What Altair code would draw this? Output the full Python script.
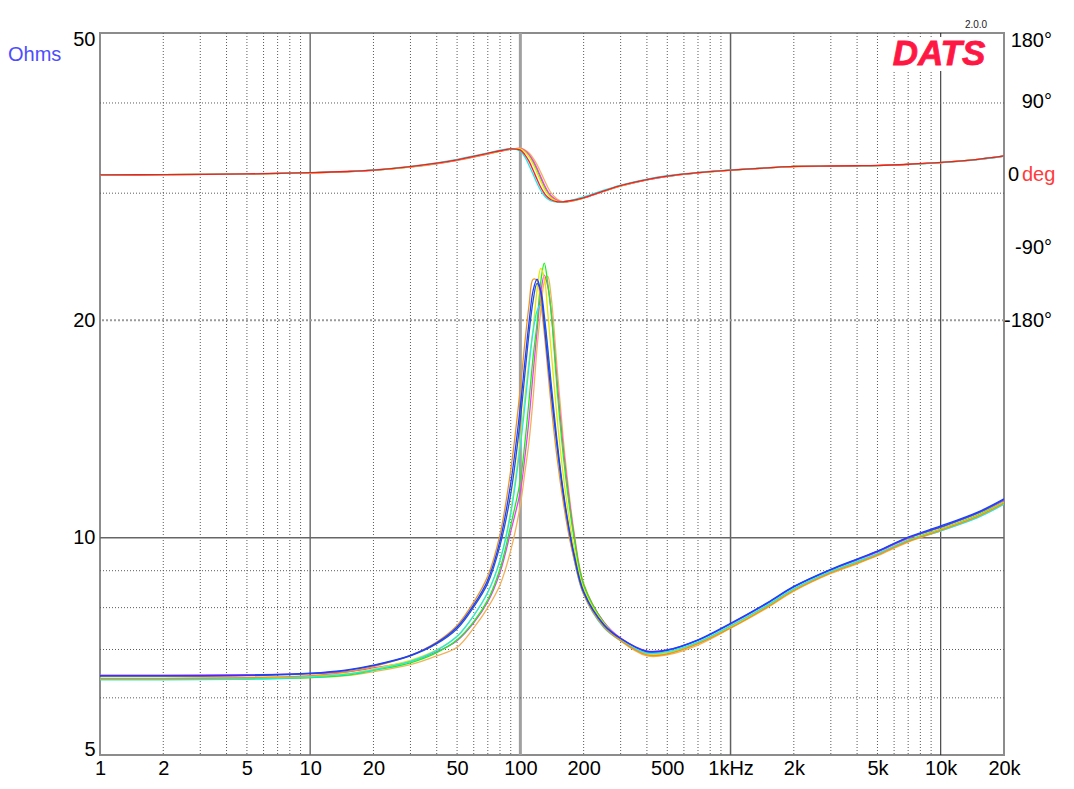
import altair as alt
import pandas as pd

# ---------------- data ----------------
FREQ = [1, 2, 5, 10, 15, 20, 30, 40, 50, 60, 70, 80, 90, 100, 105, 110, 115, 120, 125, 130,
        135, 140, 150, 160, 170, 180, 200, 250, 300, 400, 500, 700, 1000, 1500, 2000, 3000,
        4000, 5000, 7000, 10000, 15000, 20000]

Z_BLUE = [6.44, 6.44, 6.45, 6.49, 6.56, 6.66, 6.87, 7.15, 7.52, 8.07, 8.74, 9.9, 11.9, 15.2, 17.5, 19.9,
          22.0, 22.8, 21.9, 19.7, 17.6, 15.9, 13.3, 11.5, 10.3, 9.45, 8.4, 7.57, 7.25, 6.96, 6.99, 7.22,
          7.61, 8.13, 8.56, 9.04, 9.34, 9.58, 10.02, 10.38, 10.85, 11.32]
Z_BLUE2 = [6.43, 6.43, 6.44, 6.48, 6.55, 6.65, 6.86, 7.13, 7.48, 8.02, 8.65, 9.75, 11.5, 14.6, 16.8, 19.2,
           21.3, 22.5, 22.0, 20.3, 18.3, 16.4, 13.5, 11.6, 10.35, 9.5, 8.42, 7.57, 7.25, 6.95, 6.98, 7.21,
           7.60, 8.12, 8.55, 9.03, 9.33, 9.57, 10.0, 10.35, 10.82, 11.29]
Z_ORANGE = [6.38, 6.38, 6.40, 6.44, 6.52, 6.63, 6.87, 7.17, 7.56, 8.14, 8.85, 10.1, 12.4, 16.1, 18.6, 21.0,
            22.8, 22.7, 21.2, 19.2, 17.1, 15.3, 12.8, 11.2, 10.1, 9.35, 8.35, 7.52, 7.20, 6.88, 6.90, 7.13,
            7.50, 8.02, 8.45, 8.94, 9.22, 9.46, 9.88, 10.24, 10.70, 11.17]
Z_CYAN = [6.36, 6.36, 6.37, 6.41, 6.47, 6.56, 6.74, 6.98, 7.30, 7.80, 8.40, 9.30, 10.8, 13.4, 15.2, 17.3,
          19.3, 20.6, 21.0, 20.0, 18.0, 16.0, 13.2, 11.4, 10.2, 9.35, 8.35, 7.50, 7.20, 6.92, 6.95, 7.17,
          7.55, 8.07, 8.50, 8.98, 9.27, 9.50, 9.90, 10.22, 10.66, 11.12]
Z_YELLOW = [6.39, 6.39, 6.40, 6.43, 6.48, 6.58, 6.76, 6.99, 7.30, 7.80, 8.40, 9.30, 10.9, 13.7, 15.6, 17.6,
            19.5, 22.0, 23.6, 22.9, 20.5, 18.2, 14.5, 12.2, 10.7, 9.7, 8.5, 7.60, 7.22, 6.90, 6.92, 7.14,
            7.52, 8.03, 8.46, 8.95, 9.23, 9.47, 9.90, 10.26, 10.72, 11.18]
Z_GREEN = [6.36, 6.36, 6.37, 6.40, 6.45, 6.55, 6.71, 6.93, 7.22, 7.65, 8.20, 9.05, 10.4, 12.0, 13.5, 15.5,
           17.8, 19.8, 22.6, 24.0, 22.5, 20.6, 15.9, 13.0, 11.2, 10.0, 8.6, 7.62, 7.22, 6.90, 6.92, 7.15,
           7.54, 8.05, 8.48, 8.97, 9.25, 9.49, 9.92, 10.28, 10.75, 11.20]
Z_MAGENTA = [6.45, 6.45, 6.46, 6.48, 6.52, 6.60, 6.74, 6.95, 7.20, 7.62, 8.15, 8.95, 10.2, 11.6, 12.9, 14.6,
             16.9, 19.3, 21.8, 23.1, 22.3, 20.6, 16.3, 13.3, 11.4, 10.1, 8.6, 7.64, 7.26, 6.97, 6.99, 7.21,
             7.59, 8.11, 8.54, 9.02, 9.31, 9.55, 9.98, 10.33, 10.80, 11.26]
Z_ORANGE2 = [6.37, 6.37, 6.38, 6.40, 6.44, 6.52, 6.67, 6.86, 7.05, 7.50, 8.00, 8.60, 9.60, 11.1, 12.3, 13.6,
             15.6, 18.3, 20.6, 22.6, 23.0, 21.6, 17.0, 13.7, 11.6, 10.2, 8.65, 7.62, 7.20, 6.86, 6.88, 7.10,
             7.49, 8.00, 8.43, 8.92, 9.20, 9.44, 9.86, 10.22, 10.68, 11.15]

PH_RED = [0.3, 0.6, 1.5, 3.0, 4.5, 6.3, 10.6, 14.8, 19.0, 23.3, 27.0, 30.2, 32.6, 31.0, 25.5, 17.0, 6.0,
          -5.0, -15.0, -22.5, -27.5, -30.5, -33.0, -33.0, -32.0, -31.0, -28.0, -19.5, -13.0, -5.5, -1.2,
          3.0, 6.2, 9.0, 10.8, 11.3, 11.6, 12.0, 13.5, 15.7, 19.5, 23.8]
PH_CYAN = [0.3, 0.6, 1.6, 3.1, 4.7, 6.5, 10.9, 15.2, 19.5, 23.8, 27.6, 30.8, 32.8, 29.5, 22.5, 12.0, 1.0,
           -10.0, -19.0, -25.5, -29.5, -32.0, -33.5, -32.8, -31.5, -30.2, -27.0, -18.5, -12.3, -4.8, -0.6,
           3.4, 6.4, 9.1, 10.8, 11.2, 11.5, 11.9, 13.3, 15.5, 19.2, 23.4]
PH_YELLOW = [0.3, 0.6, 1.5, 2.9, 4.4, 6.2, 10.4, 14.5, 18.7, 22.9, 26.6, 29.9, 32.3, 32.5, 29.0, 22.5, 13.5,
             3.0, -7.5, -17.0, -23.5, -28.0, -32.5, -33.2, -32.2, -31.0, -28.0, -19.5, -13.2, -5.6, -1.3,
             3.0, 6.2, 9.0, 10.7, 11.2, 11.5, 11.9, 13.4, 15.6, 19.4, 23.6]
PH_MAGENTA = [0.3, 0.6, 1.5, 2.9, 4.3, 6.0, 10.2, 14.2, 18.4, 22.6, 26.3, 29.7, 32.2, 33.0, 30.5, 25.5, 18.0,
              8.5, -2.0, -12.0, -20.0, -25.5, -31.5, -33.2, -32.5, -31.3, -28.2, -19.8, -13.4, -5.7, -1.4,
              2.9, 6.1, 8.9, 10.7, 11.2, 11.5, 11.9, 13.4, 15.6, 19.4, 23.7]
PH_ORANGE = [0.3, 0.6, 1.4, 2.8, 4.2, 5.9, 10.0, 14.0, 18.2, 22.3, 26.0, 29.4, 32.0, 33.5, 31.5, 27.5, 21.0,
             13.0, 3.5, -6.0, -15.0, -22.0, -30.0, -33.0, -32.8, -31.5, -28.5, -20.0, -13.6, -5.8, -1.5,
             2.8, 6.0, 8.8, 10.6, 11.1, 11.4, 11.8, 13.3, 15.5, 19.3, 23.6]
PH_GREEN = [0.3, 0.6, 1.5, 2.9, 4.3, 6.0, 10.2, 14.3, 18.5, 22.7, 26.4, 29.8, 32.2, 32.5, 30.0, 24.5, 16.5,
            6.5, -4.0, -14.0, -21.5, -27.0, -32.0, -33.7, -32.8, -31.5, -28.3, -19.8, -13.4, -5.7, -1.4,
            2.9, 6.1, 8.9, 10.7, 11.2, 11.5, 11.9, 13.4, 15.6, 19.4, 23.7]

X_TICKS = [1, 2, 5, 10, 20, 50, 100, 200, 500, 1000, 2000, 5000, 10000, 20000]
Y_TICKS = [5, 10, 20, 50]
X_MINOR = [2, 3, 4, 5, 6, 7, 8, 9, 20, 30, 40, 50, 60, 70, 80, 90, 200, 300, 400, 500, 600, 700, 800, 900,
           2000, 3000, 4000, 5000, 6000, 7000, 8000, 9000]
X_MAJOR = [10, 100, 1000, 10000]
Y_MINOR = [6, 7, 8, 9, 30, 40]
PHASE_TICKS = [90, -90, -180]
PHASE_LABELS = ["90°", "-90°", "-180°"]

# ---------------- styles ----------------
FONT = "Liberation Sans"
C_BLUE, C_BLUE2, C_ORANGE, C_CYAN = "#1f3dff", "#2456c8", "#ec9420", "#1de9f2"
C_YELLOW, C_GREEN, C_MAGENTA, C_ORANGE2, C_RED = "#e6e600", "#19f019", "#f03cf0", "#f2b25a", "#ff1a1a"
MAJ_COLORS = ["#707070", "#a0a0a0", "#606060", "#202020"]
MAJ_WIDTHS = [1.5, 3, 1.5, 1]
LINE_W = 1.3
INTERP = "catmull-rom"

W, H = 904, 722
XS = alt.Scale(type="log", domain=[1, 20000], nice=False)
YS = alt.Scale(type="log", domain=[5, 50], nice=False)
PS = alt.Scale(domain=[-718, 176], nice=False, zero=False)

XAXIS = alt.Axis(values=X_TICKS, grid=False, ticks=False, domain=False, title=None,
                 labelExpr="datum.value == 1000 ? '1kHz' : (datum.value > 1000 ? (datum.value/1000) + 'k' : datum.value + '')",
                 labelFontSize=20, labelFont=FONT, labelColor="black", labelPadding=3,
                 labelOverlap=False, labelFlush=False, labelBound=False)
YAXIS = alt.Axis(values=Y_TICKS, grid=False, ticks=False, domain=False, title=None,
                 labelFontSize=20, labelFont=FONT, labelColor="black", labelPadding=5,
                 labelFlush=True, labelFlushOffset=4, labelOverlap=False)

X_ENC = alt.X("f:Q", scale=XS, axis=XAXIS)


def imp_line(vals, color):
    df = pd.DataFrame({"f": FREQ, "v": vals})
    return alt.Chart(df).mark_line(color=color, strokeWidth=LINE_W, interpolate=INTERP, clip=True).encode(
        x=X_ENC, y=alt.Y("v:Q", scale=YS, axis=YAXIS))


def ph_line(vals, color):
    df = pd.DataFrame({"f": FREQ, "v": vals})
    return alt.Chart(df).mark_line(color=color, strokeWidth=LINE_W, interpolate=INTERP, clip=True).encode(
        x=X_ENC, y=alt.Y("v:Q", scale=PS, axis=None))


# grid lines
gx_minor = alt.Chart(pd.DataFrame({"f": X_MINOR})).mark_rule(
    color="#5a5a5a", strokeWidth=1, strokeDash=[1, 2]).encode(x=X_ENC)
gx_major = alt.Chart(pd.DataFrame({"f": X_MAJOR, "c": MAJ_COLORS, "w": MAJ_WIDTHS})).mark_rule().encode(
    x=X_ENC, color=alt.Color("c:N", scale=None), strokeWidth=alt.StrokeWidth("w:Q", scale=None))
gy_minor = alt.Chart(pd.DataFrame({"z": Y_MINOR})).mark_rule(
    color="#5a5a5a", strokeWidth=1, strokeDash=[1, 2]).encode(y=alt.Y("z:Q", scale=YS, axis=YAXIS))
gy_20 = alt.Chart(pd.DataFrame({"z": [20]})).mark_rule(
    color="#9a9a9a", strokeWidth=2, strokeDash=[2, 2]).encode(y=alt.Y("z:Q", scale=YS, axis=YAXIS))
gy_10 = alt.Chart(pd.DataFrame({"z": [10]})).mark_rule(
    color="#666666", strokeWidth=1.5).encode(y=alt.Y("z:Q", scale=YS, axis=YAXIS))

one = pd.DataFrame({"a": [0]})
logo_box = alt.Chart(one).mark_rect(color="white").encode(
    x=alt.value(786), x2=alt.value(902), y=alt.value(4), y2=alt.value(38))
logo = alt.Chart(pd.DataFrame({"t": ["DATS"]})).mark_text(
    font=FONT, fontSize=35, fontWeight="bold", fontStyle="italic", color="#ff1744",
    stroke="#ff1744", strokeWidth=0.8,
    align="center", baseline="alphabetic").encode(x=alt.value(839), y=alt.value(32), text="t:N")
version = alt.Chart(pd.DataFrame({"t": ["2.0.0"]})).mark_text(
    font=FONT, fontSize=10, color="#222222", align="center", baseline="alphabetic").encode(
    x=alt.value(876), y=alt.value(-5), text="t:N")
ohms = alt.Chart(pd.DataFrame({"t": ["Ohms"]})).mark_text(
    font=FONT, fontSize=20, color="#4d4dff", align="left", baseline="middle").encode(
    x=alt.value(-92), y=alt.value(22), text="t:N")

imp_layer = alt.layer(
    gx_minor, gx_major, gy_minor, gy_20, gy_10,
    imp_line(Z_ORANGE2, C_ORANGE2), imp_line(Z_MAGENTA, C_MAGENTA), imp_line(Z_GREEN, C_GREEN),
    imp_line(Z_YELLOW, C_YELLOW), imp_line(Z_CYAN, C_CYAN), imp_line(Z_ORANGE, C_ORANGE),
    imp_line(Z_BLUE2, C_BLUE2), imp_line(Z_BLUE, C_BLUE),
    logo_box, logo, version, ohms,
)

ph_labels = alt.Chart(pd.DataFrame({"v": PHASE_TICKS, "lab": PHASE_LABELS})).mark_text(
    font=FONT, fontSize=20, color="black", align="right", baseline="middle").encode(
    x=alt.value(952), y=alt.Y("v:Q", scale=PS, axis=None), text="lab:N")
ph_180 = alt.Chart(pd.DataFrame({"v": [180], "lab": ["180°"]})).mark_text(
    font=FONT, fontSize=20, color="black", align="right", baseline="middle", dy=11).encode(
    x=alt.value(952), y=alt.Y("v:Q", scale=PS, axis=None), text="lab:N")
ph_0 = alt.Chart(pd.DataFrame({"v": [0], "lab": ["0"]})).mark_text(
    font=FONT, fontSize=20, color="black", align="right", baseline="middle").encode(
    x=alt.value(919), y=alt.Y("v:Q", scale=PS, axis=None), text="lab:N")
ph_deg = alt.Chart(pd.DataFrame({"v": [0], "lab": ["deg"]})).mark_text(
    font=FONT, fontSize=20, color="#ff3b3b", align="left", baseline="middle").encode(
    x=alt.value(922), y=alt.Y("v:Q", scale=PS, axis=None), text="lab:N")

ph_layer = alt.layer(
    ph_line(PH_GREEN, C_GREEN), ph_line(PH_ORANGE, C_ORANGE2), ph_line(PH_MAGENTA, C_MAGENTA),
    ph_line(PH_YELLOW, C_YELLOW), ph_line(PH_CYAN, C_CYAN), ph_line(PH_RED, C_RED),
    ph_labels, ph_180, ph_0, ph_deg,
)

chart = alt.layer(imp_layer, ph_layer).resolve_scale(y="independent").properties(
    width=W, height=H,
    autosize=alt.AutoSizeParams(type="none"),
    padding={"left": 92, "top": 25, "right": 58, "bottom": 26},
    background="white",
).configure_view(stroke="#8c8c8c", strokeWidth=2)

chart.save("out.html", embed_options={"renderer": "svg", "actions": False})
